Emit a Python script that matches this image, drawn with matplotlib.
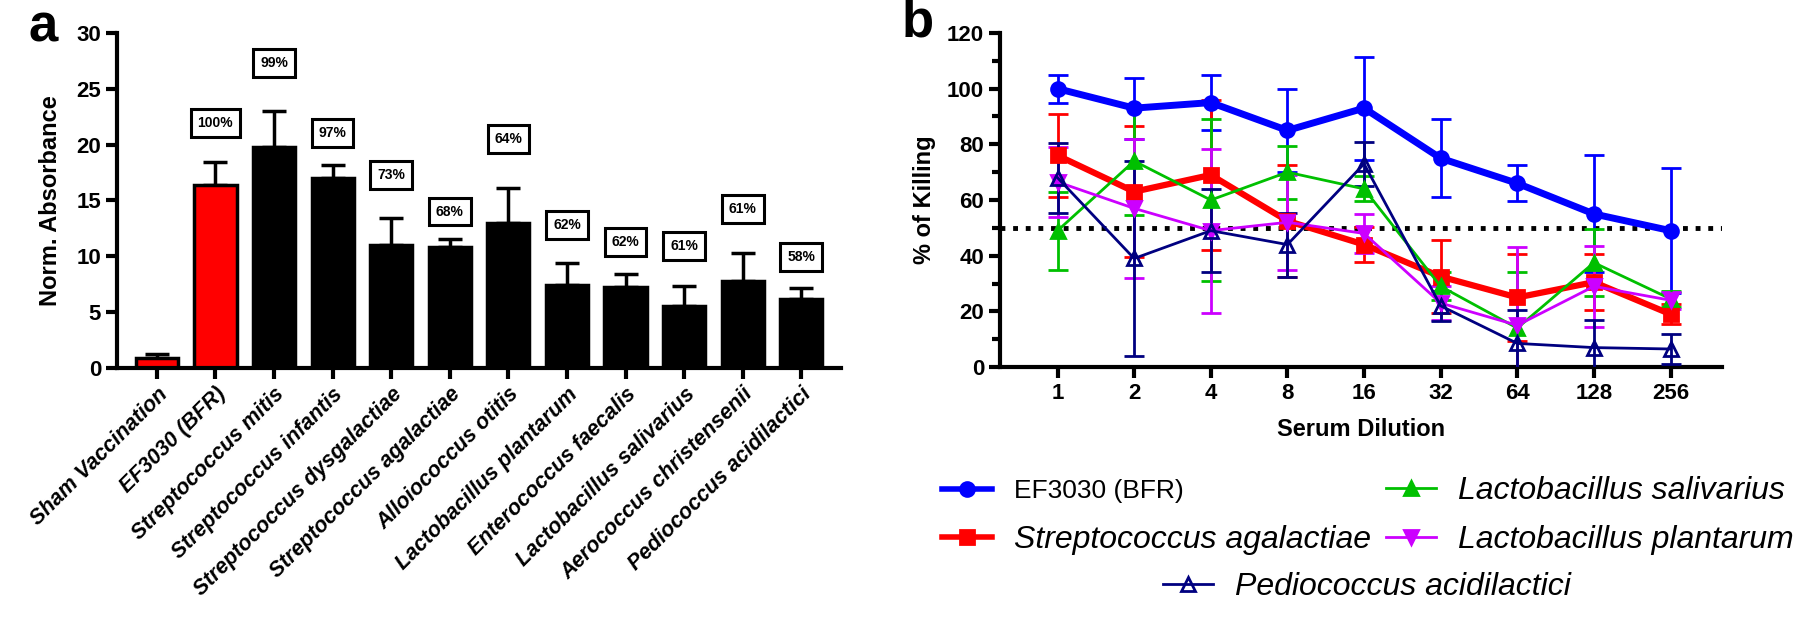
import numpy as np
import matplotlib
matplotlib.use('Agg')
import matplotlib.pyplot as plt
from matplotlib.ticker import MultipleLocator
from matplotlib.lines import Line2D

plt.rcParams['font.family'] = ['Liberation Sans', 'DejaVu Sans']

# panel a data
strains = ['Sham Vaccination', 'EF3030 (BFR)', 'Streptococcus mitis', 'Streptococcus infantis',
           'Streptococcus dysgalactiae', 'Streptococcus agalactiae', 'Alloiococcus otitis',
           'Lactobacillus plantarum', 'Enterococcus faecalis', 'Lactobacillus salivarius',
           'Aerococcus christensenii', 'Pediococcus acidilactici']
absorb = [0.9, 16.4, 19.8, 17.0, 11.0, 10.8, 13.0, 7.4, 7.25, 5.5, 7.8, 6.2]
absorb_err = [0.3, 2.0, 3.2, 1.2, 2.4, 0.7, 3.1, 2.0, 1.15, 1.85, 2.5, 0.9]
pct = ['', '100%', '99%', '97%', '73%', '68%', '64%', '62%', '62%', '61%', '61%', '58%']
label_y = [0, 21.9, 27.3, 21.0, 17.3, 14.0, 20.5, 12.8, 11.3, 10.9, 14.2, 9.9]

# panel b data
dilutions = ['1', '2', '4', '8', '16', '32', '64', '128', '256']
ef3030 = [100, 93, 95, 85, 93, 75, 66, 55, 49]
ef3030_err = [5, 11, 10, 15, 18.5, 14, 6.5, 21, 22.5]
s_agal = [76, 63, 69, 52.5, 44, 32.5, 25, 30.5, 19]
s_agal_err = [15, 23.5, 27, 20, 6.3, 13, 15.5, 10, 3.5]
l_saliv = [49, 74, 60, 70, 64, 29, 14, 37.5, 24.5]
l_saliv_err = [14, 19.5, 29, 9.5, 4.5, 5, 20, 12, 3]
l_plant = [66.5, 57, 49, 52, 48, 23, 15, 29, 24]
l_plant_err = [12.7, 25, 29.5, 17, 7, 6, 28, 14.5, 3]
p_acid = [68, 39, 49, 44, 73, 22, 8.5, 7, 6.5]
p_acid_err = [12.5, 35, 15, 11.5, 8, 5.5, 12, 10, 5.5]

fig = plt.figure(figsize=(18, 6.34), dpi=100)

# ---- panel a ----
ax = fig.add_axes([0.065, 0.42, 0.402, 0.528])
idx = np.arange(len(strains))
cols = ['#ff0000', '#ff0000'] + ['black'] * (len(strains) - 2)
ax.bar(idx, absorb, 0.72, color=cols, edgecolor='black', linewidth=2.5, zorder=2)
ax.errorbar(idx, absorb, yerr=[np.zeros(len(absorb)), absorb_err], fmt='none',
            ecolor='black', elinewidth=2.5, capsize=8.5, capthick=2.5, zorder=1)
for i in idx:
    if pct[i]:
        ax.text(i, label_y[i], pct[i], ha='center', va='center', fontsize=10, fontweight='bold',
                bbox=dict(boxstyle='square,pad=0.5', fc='white', ec='black', lw=2.2))
ax.set_ylim(0, 30)
ax.set_xlim(-0.68, 11.67)
ax.set_yticks([0, 5, 10, 15, 20, 25, 30])
ax.set_xticks(idx)
ax.set_xticklabels(strains, rotation=45, ha='right', rotation_mode='anchor',
                   fontsize=15.5, style='italic', fontweight='bold')
ax.set_ylabel('Norm. Absorbance', fontsize=17, fontweight='bold', labelpad=10)
for s in ['top', 'right']:
    ax.spines[s].set_visible(False)
for s in ['left', 'bottom']:
    ax.spines[s].set_linewidth(3)
ax.tick_params(axis='both', width=3, length=8)
ax.tick_params(axis='y', labelsize=16)
for t in ax.get_yticklabels():
    t.set_fontweight('bold')
fig.text(0.0156, 0.934, 'a', fontsize=38, fontweight='bold', va='baseline')

# ---- panel b ----
bx = fig.add_axes([0.5556, 0.421, 0.401, 0.527])
x = np.arange(len(dilutions))
bx.axhline(50, color='black', linestyle=(0, (1, 1.6)), linewidth=3.5, zorder=1)
series = [
    ('EF3030 (BFR)', ef3030, ef3030_err, '#0000ff', 'o', 5, 'normal', 'full'),
    ('Streptococcus agalactiae', s_agal, s_agal_err, '#ff0000', 's', 4.5, 'italic', 'full'),
    ('Lactobacillus salivarius', l_saliv, l_saliv_err, '#00c000', '^', 2, 'italic', 'full'),
    ('Lactobacillus plantarum', l_plant, l_plant_err, '#cc00ff', 'v', 2, 'italic', 'full'),
    ('Pediococcus acidilactici', p_acid, p_acid_err, '#000080', '^', 2, 'italic', 'none'),
]
for name, vals, err, c, m, lw, st, fill in series:
    bx.errorbar(x, vals, yerr=err, color=c, marker=m, markersize=10, linewidth=lw,
                elinewidth=2, capsize=7, capthick=2.5, fillstyle=fill,
                markeredgewidth=2, zorder=3)
bx.set_ylim(0, 120)
bx.set_xlim(-0.75, 8.67)
bx.yaxis.set_major_locator(MultipleLocator(20))
bx.yaxis.set_minor_locator(MultipleLocator(10))
bx.set_xticks(x)
bx.set_xticklabels(dilutions)
bx.set_xlabel('Serum Dilution', fontsize=17, fontweight='bold', labelpad=10)
bx.set_ylabel('% of Killing', fontsize=17, fontweight='bold', labelpad=8)
for s in ['top', 'right']:
    bx.spines[s].set_visible(False)
for s in ['left', 'bottom']:
    bx.spines[s].set_linewidth(3)
bx.tick_params(axis='both', which='major', width=3, length=8, labelsize=16)
bx.tick_params(axis='y', which='minor', width=3, length=6)
for t in bx.get_xticklabels() + bx.get_yticklabels():
    t.set_fontweight('bold')
fig.text(0.501, 0.942, 'b', fontsize=38, fontweight='bold', va='baseline')

# legend: one entry per spot, laid out like the original
legend_spots = [(0.5233, 0.2256), (0.5233, 0.1483), (0.77, 0.2256), (0.77, 0.1483), (0.646, 0.074)]
for (name, vals, err, c, m, lw, st, fill), (lx, ly) in zip(series, legend_spots):
    h = Line2D([], [], color=c, marker=m, markersize=10, linewidth=min(lw, 4),
               fillstyle=fill, markeredgewidth=2)
    fsize = 19 if st == 'normal' else 23
    lg = fig.legend([h], [name], loc='center left', bbox_to_anchor=(lx, ly),
                    frameon=False, fontsize=fsize, handlelength=50 / (fsize * 1.389),
                    handletextpad=22 / (fsize * 1.389), borderpad=0, borderaxespad=0)
    lg.get_texts()[0].set_style(st)

fig.savefig('out.png', dpi=100)
